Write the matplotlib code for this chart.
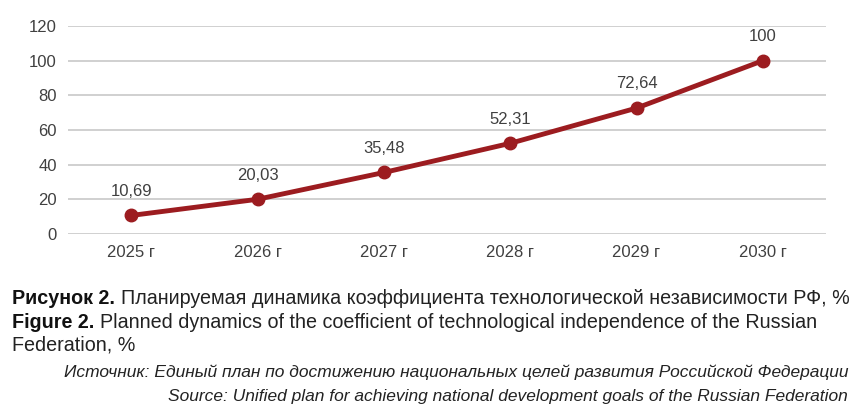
import matplotlib.pyplot as plt

# данные
years = ["2025 г", "2026 г", "2027 г", "2028 г", "2029 г", "2030 г"]
values = [10.69, 20.03, 35.48, 52.31, 72.64, 100]
labels = ["10,69", "20,03", "35,48", "52,31", "72,64", "100"]
yticks = [0, 20, 40, 60, 80, 100, 120]

plt.rcParams['font.family'] = ['Liberation Sans', 'DejaVu Sans']
red = "#9C1C20"
grey_txt = "#404040"

fig = plt.figure(figsize=(8.59, 4.18), dpi=100)
ax = fig.add_axes([0.0792, 0.4402, 0.8824, 0.4976])

x = range(len(years))
ax.plot(x, values, color=red, lw=3.5, marker="o", ms=9, zorder=3)
for xi, v, t in zip(x, values, labels):
    ax.annotate(t, (xi, v), xytext=(0, 12), textcoords="offset points",
                ha="center", va="bottom", fontsize=12, color=grey_txt)

ax.set_xlim(-0.5, len(years) - 0.5)
ax.set_ylim(0, 120)
ax.set_yticks(yticks)
ax.set_xticks(list(x))
ax.set_xticklabels(years)
ax.tick_params(length=0, labelsize=12, labelcolor=grey_txt, pad=8)
ax.grid(axis="y", color="#C8C8C8", lw=1.2)
ax.set_axisbelow(True)
for s in ax.spines.values():
    s.set_visible(False)

# подписи: жирная часть, затем обычный текст сразу после неё
def caption(y, bold, rest, fs):
    b = fig.text(12/859, 1-y/418, bold, fontsize=fs, fontweight="bold", va="center", color="#111111")
    fig.canvas.draw()
    x_end = b.get_window_extent().x1 / fig.bbox.width
    fig.text(x_end + 6/859, 1-y/418, rest, fontsize=fs, va="center", color="#222222")

caption(298, "Рисунок 2.", "Планируемая динамика коэффициента технологической независимости РФ, %", 14.2)
caption(322, "Figure 2.", "Planned dynamics of the coefficient of technological independence of the Russian", 14.2)
fig.text(12/859, 1-345/418, "Federation, %", fontsize=14.2, va="center", color="#222222")
fig.text(848/859, 1-372/418, "Источник: Единый план по достижению национальных целей развития Российской Федерации",
         fontsize=12.5, style="italic", ha="right", va="center", color="#222222")
fig.text(848/859, 1-396/418, "Source: Unified plan for achieving national development goals of the Russian Federation",
         fontsize=12.5, style="italic", ha="right", va="center", color="#222222")

fig.savefig("out.png", dpi=100)
